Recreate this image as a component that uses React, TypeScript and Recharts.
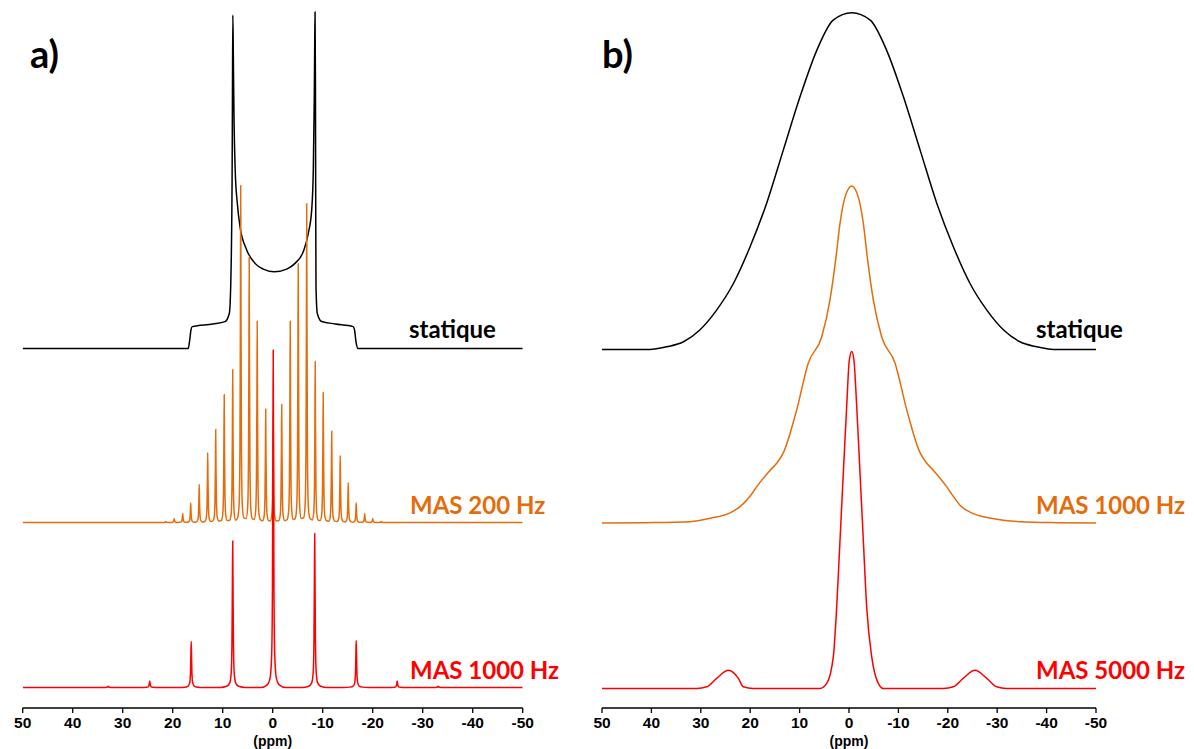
import React from "react";
import { Line, LineChart, XAxis, YAxis } from "recharts";

// Spectres RMN : déplacement chimique (ppm) / intensité (% du maximum de chaque spectre)

// a) statique : poudre avec les deux cornes
const statiqueA: [number, number][] = [
  [50, 0], [16.9, 0], [16.6, 2.5], [16.35, 5.5], [16.1, 6.5], [12.0, 7.3],
  [9.54, 8.0], [8.68, 10.4], [8.4, 18.4], [8.2, 36.3], [8.12, 50], [8.05, 75],
  [7.97, 99.1], [7.88, 88], [7.75, 70], [7.5, 53], [7.08, 43.2], [6.54, 36.2],
  [5.2, 29.3], [3.54, 25.3], [1.88, 23.6], [-0.32, 22.8], [-2.8, 23.6],
  [-4.46, 25.3], [-6.12, 28.8], [-7.12, 34.2], [-7.8, 41.2], [-8.12, 53],
  [-8.32, 75], [-8.4, 90], [-8.47, 100], [-8.55, 78], [-8.6, 45], [-8.66, 18.4],
  [-8.92, 10.4], [-9.8, 8.0], [-12.5, 7.3], [-16.1, 6.5], [-16.4, 5.2],
  [-16.66, 2.0], [-17.1, 0], [-50, 0],
];

// a) MAS 200 Hz : bandes de rotation
const mas200Pos = [
  21.4, 19.7, 18.0, 16.4, 14.7, 13.0, 11.4, 9.7, 8.0, 6.4, 4.7, 3.1, 1.4, -0.1,
  -1.8, -3.5, -5.1, -6.8, -8.5, -10.1, -11.8, -13.5, -15.1, -16.7, -18.4, -20.0, -21.7,
];
const mas200Int = [
  0.3, 1.1, 2.7, 5.8, 11.3, 20.7, 27.6, 37.9, 45.4, 100, 78.8, 59.7, 33.7, 32,
  35, 59.7, 76.8, 94.6, 47.8, 38.6, 27.1, 19.9, 11.8, 5.8, 2.7, 1.1, 0.3,
];

// a) MAS 1000 Hz
const mas1000APos = [32.9, 24.6, 16.3, 8.0, -0.1, -8.4, -16.7, -24.9, -33.1];
const mas1000AInt = [0.4, 1.9, 13.6, 43.4, 100, 45.6, 13.9, 1.9, 0.4];

// b) statique
const statiqueB: [number, number][] = [
  [50, 0], [40.3, 0], [36.9, 0.8], [33.5, 2.3], [30.2, 5.8], [26.8, 11.7],
  [23.4, 19.6], [20.0, 30.6], [16.7, 43.3], [13.3, 59.2], [9.9, 75.1],
  [6.5, 88.9], [3.2, 97.8], [-0.55, 100], [-4.3, 97.8], [-7.6, 88.9],
  [-11.0, 75.1], [-14.4, 59.2], [-17.8, 43.3], [-21.1, 30.6], [-24.5, 19.6],
  [-27.9, 11.7], [-31.3, 5.8], [-34.6, 2.3], [-38.0, 0.8], [-41.4, 0], [-50, 0],
];

// b) MAS 1000 Hz
const mas1000B: [number, number][] = [
  [50, 0], [41, 0.1], [32.2, 0.4], [28.1, 1.4], [24.1, 3.0], [22.1, 4.8],
  [19.4, 9.2], [18.7, 10.7], [16.0, 15.6], [14.6, 17.8], [13.3, 20.8],
  [10.6, 33.5], [8.24, 47.5], [5.53, 55.2], [3.85, 66.2], [2.63, 78.9],
  [1.82, 88.9], [0.81, 96.7], [-0.55, 100], [-1.88, 96.7], [-2.9, 88.9],
  [-3.7, 78.9], [-4.92, 66.2], [-6.62, 55.2], [-9.31, 47.5], [-11.7, 33.5],
  [-14.4, 20.8], [-15.7, 17.8], [-17.1, 15.6], [-19.8, 10.7], [-20.5, 9.2],
  [-22.8, 4.8], [-24.8, 3.0], [-28.8, 1.4], [-34.6, 0.4], [-42, 0.1], [-50, 0],
];

// b) MAS 5000 Hz
const mas5000B: [number, number][] = [
  [50, 0], [30.8, 0], [28.8, 0.5], [26.8, 3.0], [24.4, 5.4], [22.4, 3.0],
  [21.4, 0.5], [19.4, 0], [5.87, 0], [4.51, 1.5], [3.18, 9.4], [2.49, 24.2],
  [1.82, 44], [1.15, 63.9], [0.47, 83.7], [-0.06, 97.4], [-0.55, 100],
  [-1.0, 97.4], [-1.56, 83.7], [-2.23, 63.9], [-2.9, 44], [-3.58, 24.2],
  [-4.6, 9.4], [-5.93, 1.5], [-6.94, 0], [-19.1, 0], [-21.1, 0.5], [-23.1, 3.0],
  [-25.5, 5.4], [-27.9, 3.0], [-29.9, 0.5], [-31.9, 0], [-50, 0],
];

const ppmTicks = [50, 40, 30, 20, 10, 0, -10, -20, -30, -40, -50];

// forme d'une raie fine (écart en ppm, fraction de la hauteur)
const narrowLine: [number, number][] = [
  [-0.6, 0.015], [-0.3, 0.06], [-0.15, 0.22], [-0.06, 0.6], [0, 1],
  [0.06, 0.6], [0.15, 0.22], [0.3, 0.06], [0.6, 0.015],
];
const wideLine: [number, number][] = [
  [-2.5, 0], [-1.2, 0.008], [-0.6, 0.03], [-0.3, 0.1], [-0.15, 0.3], [-0.06, 0.72],
  [0, 1], [0.06, 0.72], [0.15, 0.3], [0.3, 0.1], [0.6, 0.03], [1.2, 0.008], [2.5, 0],
];

type Pt = { ppm: number; v: number };

const fromPairs = (pairs: [number, number][]): Pt[] =>
  pairs.map(([ppm, v]) => ({ ppm, v }));

const sticks = (pos: number[], amp: number[], shape: [number, number][]): Pt[] => {
  const pts: Pt[] = [{ ppm: 50, v: 0 }, { ppm: -50, v: 0 }];
  pos.forEach((p, i) => shape.forEach(([dx, f]) => pts.push({ ppm: p - dx, v: amp[i] * f })));
  return pts.sort((a, b) => b.ppm - a.ppm);
};

const ORANGE = "#E46C0A";
const RED = "#FF0000";
const PLOT_BOTTOM = 708;
const CHART_H = 749;

type Trace = { id: string; data: Pt[]; color: string; baseY: number; fullPx: number };

// domaine d'axe y qui place la ligne de base à baseY et 100 % à fullPx au-dessus
const yDomain = (baseY: number, fullPx: number): [number, number] => {
  const k = fullPx / 100;
  return [-(PLOT_BOTTOM - baseY) / k, baseY / k];
};

const tickStyle = {
  fill: "#000",
  fontSize: 15.5,
  fontWeight: 700,
  fontFamily: "'Liberation Sans', Arial, sans-serif",
};

const SpectraPanel = ({
  left,
  width,
  marginLeft,
  marginRight,
  traces,
}: {
  left: number;
  width: number;
  marginLeft: number;
  marginRight: number;
  traces: Trace[];
}) => (
  <div style={{ position: "absolute", left, top: 0 }}>
    <LineChart
      width={width}
      height={CHART_H}
      margin={{ top: 0, right: marginRight, bottom: CHART_H - PLOT_BOTTOM - 30, left: marginLeft }}
    >
      <XAxis
        type="number"
        dataKey="ppm"
        domain={[-50, 50]}
        reversed
        allowDataOverflow
        ticks={ppmTicks}
        interval={0}
        height={30}
        tickSize={5}
        tickMargin={4}
        axisLine={{ stroke: "#000", strokeWidth: 1.3 }}
        tickLine={{ stroke: "#000", strokeWidth: 1.3 }}
        tick={tickStyle}
      />
      {traces.map((t) => (
        <YAxis
          key={`y-${t.id}`}
          yAxisId={t.id}
          type="number"
          hide
          allowDataOverflow
          domain={yDomain(t.baseY, t.fullPx)}
        />
      ))}
      {traces.map((t) => (
        <Line
          key={t.id}
          yAxisId={t.id}
          data={t.data}
          dataKey="v"
          type="monotoneX"
          stroke={t.color}
          strokeWidth={1.5}
          dot={false}
          activeDot={false}
          isAnimationActive={false}
        />
      ))}
    </LineChart>
  </div>
);

const labelFont = { fontFamily: "Lato, 'Noto Sans', sans-serif", fontWeight: 700 };

export default function App() {
  const tracesA: Trace[] = [
    { id: "sa", data: fromPairs(statiqueA), color: "#000", baseY: 348.5, fullPx: 336.5 },
    { id: "oa", data: sticks(mas200Pos, mas200Int, narrowLine), color: ORANGE, baseY: 522.5, fullPx: 337 },
    { id: "ra", data: sticks(mas1000APos, mas1000AInt, wideLine), color: RED, baseY: 687.5, fullPx: 337.5 },
  ];
  const tracesB: Trace[] = [
    { id: "sb", data: fromPairs(statiqueB), color: "#000", baseY: 349.5, fullPx: 336.8 },
    { id: "ob", data: fromPairs(mas1000B), color: ORANGE, baseY: 523, fullPx: 337 },
    { id: "rb", data: fromPairs(mas5000B), color: RED, baseY: 688.5, fullPx: 337 },
  ];

  return (
    <div style={{ position: "absolute", left: 0, top: 0, width: 1194, height: 749, background: "#fff" }}>
      <SpectraPanel left={0} width={600} marginLeft={22.7} marginRight={77.3} traces={tracesA} />
      <SpectraPanel left={590} width={604} marginLeft={12} marginRight={98} traces={tracesB} />
      <svg
        width={1194}
        height={749}
        style={{ position: "absolute", left: 0, top: 0, pointerEvents: "none" }}
      >
        <g style={labelFont}>
          <text x={30} y={68} fontSize={38} fill="#000">a)</text>
          <text x={602} y={68} fontSize={38} fill="#000">b)</text>

          <text x={409} y={338} fontSize={24} fill="#000">statique</text>
          <text x={410} y={514} fontSize={24} fill={ORANGE}>MAS 200 Hz</text>
          <text x={410} y={678.5} fontSize={24} fill={RED}>MAS 1000 Hz</text>

          <text x={1036} y={338} fontSize={24} fill="#000">statique</text>
          <text x={1036} y={514} fontSize={24} fill={ORANGE}>MAS 1000 Hz</text>
          <text x={1036} y={678.5} fontSize={24} fill={RED}>MAS 5000 Hz</text>
        </g>
        <g style={{ ...tickStyle, fontSize: 14 }}>
          <text x={272.7} y={746} textAnchor="middle">(ppm)</text>
          <text x={849} y={746} textAnchor="middle">(ppm)</text>
        </g>
      </svg>
    </div>
  );
}
